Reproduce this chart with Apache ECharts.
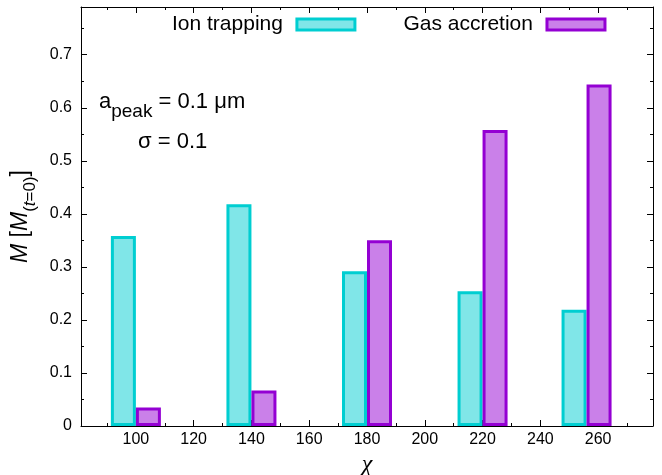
<!DOCTYPE html>
<html><head><meta charset="utf-8">
<script src="https://cdn.jsdelivr.net/npm/echarts@6/dist/echarts.min.js"></script>
<style>html,body{margin:0;padding:0;background:#fff}#c{width:662px;height:475px}</style>
</head><body><div id="c"></div>
<script>
// ---- data ----
const seriesNames = ['Ion trapping', 'Gas accretion'];
const chi = [100, 140, 180, 220, 256];
const ionTrapping = [0.358, 0.418, 0.292, 0.254, 0.219];
const gasAccretion = [0.035, 0.067, 0.350, 0.558, 0.644];
const xMajorTicks = [100, 120, 140, 160, 180, 200, 220, 240, 260];
const xMinorTicks = [90, 110, 130, 150, 170, 190, 210, 230, 250, 270];
const xRange = [81, 279];
const yRange = [0, 0.79];
const yInterval = 0.1;
const annotationLines = ['{n|a}{s|peak}{n| = 0.1 μm}', '{n|σ = 0.1}'];
const xName = 'χ';
const yName = '{mi|M}{n| [}{mi|M}{s|(}{si|t}{s|=0)}{n|]}';

// ---- styles ----
const FONT = 'Liberation Sans, Arial, sans-serif';
const ionColor = {fill: '#80E6E8', border: '#00CED1'};
const gasColor = {fill: '#CA80E9', border: '#9400D3'};
const black = '#000';

const chart = echarts.init(document.getElementById('c'), null, {renderer: 'canvas'});

function xAxisDef(position, ticks, len, showLine, showLabels, extra) {
  return Object.assign({
    type: 'value', position: position, min: xRange[0], max: xRange[1],
    axisLine: {show: showLine, onZero: false, lineStyle: {color: black, width: 1}},
    axisTick: {show: true, inside: true, length: len, customValues: ticks, lineStyle: {color: black, width: 1}},
    axisLabel: {show: showLabels, customValues: ticks, color: black, fontSize: 16, fontFamily: FONT, margin: 6},
    splitLine: {show: false}
  }, extra || {});
}
function yAxisDef(position, showLabels, extra) {
  return Object.assign({
    type: 'value', position: position, min: yRange[0], max: yRange[1], interval: yInterval,
    axisLine: {show: true, onZero: false, lineStyle: {color: black, width: 1}},
    axisTick: {show: true, inside: true, length: 6, lineStyle: {color: black, width: 1}},
    minorTick: {show: true, splitNumber: 2, length: 3, lineStyle: {color: black, width: 1}},
    axisLabel: {show: showLabels, showMaxLabel: false, color: black, fontSize: 16, fontFamily: FONT, margin: 9,
      formatter: function (v) { return Math.abs(v * 10 - Math.round(v * 10)) < 1e-6 ? String(+v.toFixed(1)) : ''; }},
    splitLine: {show: false}, minorSplitLine: {show: false}
  }, extra || {});
}

const option = {
  animation: false,
  backgroundColor: '#fff',
  grid: {left: 81, top: 7, right: 9, bottom: 49, containLabel: false, outerBoundsMode: 'none'},
  legend: {
    data: seriesNames, left: 172, top: 14, padding: 0, align: 'right', icon: 'rect',
    itemWidth: 58, itemHeight: 11, itemGap: 47,
    itemStyle: {borderWidth: 3},
    textStyle: {fontSize: 21, fontFamily: FONT, color: black, padding: [0, 9, 0, 0]}
  },
  xAxis: [
    xAxisDef('bottom', xMajorTicks, 6, true, true, {
      name: xName, nameLocation: 'middle', nameGap: 19,
      nameTextStyle: {fontSize: 24, fontStyle: 'italic', fontFamily: 'Liberation Serif, serif', color: black}
    }),
    xAxisDef('top', xMajorTicks, 6, true, false),
    xAxisDef('bottom', xMinorTicks, 3, false, false),
    xAxisDef('top', xMinorTicks, 3, false, false)
  ],
  yAxis: [
    yAxisDef('left', true, {
      name: yName, nameLocation: 'middle', nameGap: 32, nameRotate: 90,
      nameTextStyle: {
        color: black, fontFamily: FONT, fontSize: 23,
        rich: {
          mi: {fontSize: 23, fontStyle: 'italic', fontFamily: FONT, color: black, lineHeight: 24, verticalAlign: 'top'},
          n: {fontSize: 23, fontFamily: FONT, color: black, lineHeight: 24, verticalAlign: 'top'},
          s: {fontSize: 17, fontFamily: FONT, color: black, lineHeight: 18, padding: [13, 0, 0, 0], verticalAlign: 'top'},
          si: {fontSize: 17, fontStyle: 'italic', fontFamily: FONT, color: black, lineHeight: 18, padding: [13, 0, 0, 0], verticalAlign: 'top'}
        }
      }
    }),
    yAxisDef('right', false)
  ],
  graphic: [
    {type: 'text', left: 99, top: 91, z: 10, style: {
      text: annotationLines[0], fill: black,
      rich: {
        n: {fontSize: 22, fontFamily: FONT, fill: black, lineHeight: 23, verticalAlign: 'top'},
        s: {fontSize: 19, fontFamily: FONT, fill: black, lineHeight: 19, padding: [11, 0, 0, 0], verticalAlign: 'top'}
      }
    }},
    {type: 'text', left: 138, top: 131, z: 10, style: {
      text: annotationLines[1], fill: black,
      rich: {n: {fontSize: 22, fontFamily: FONT, fill: black, lineHeight: 23, verticalAlign: 'top'}}
    }}
  ],
  series: [
    {
      name: seriesNames[0], type: 'bar', xAxisIndex: 0, yAxisIndex: 0,
      barWidth: 25, barGap: '0%',
      itemStyle: {color: ionColor.fill, borderColor: ionColor.border, borderWidth: 3},
      data: chi.map(function (x, i) { return [x, ionTrapping[i]]; })
    },
    {
      name: seriesNames[1], type: 'bar', xAxisIndex: 0, yAxisIndex: 0,
      barWidth: 25, barGap: '0%',
      itemStyle: {color: gasColor.fill, borderColor: gasColor.border, borderWidth: 3},
      data: chi.map(function (x, i) { return [x, gasAccretion[i]]; })
    }
  ]
};
chart.setOption(option);
</script>
</body></html>
